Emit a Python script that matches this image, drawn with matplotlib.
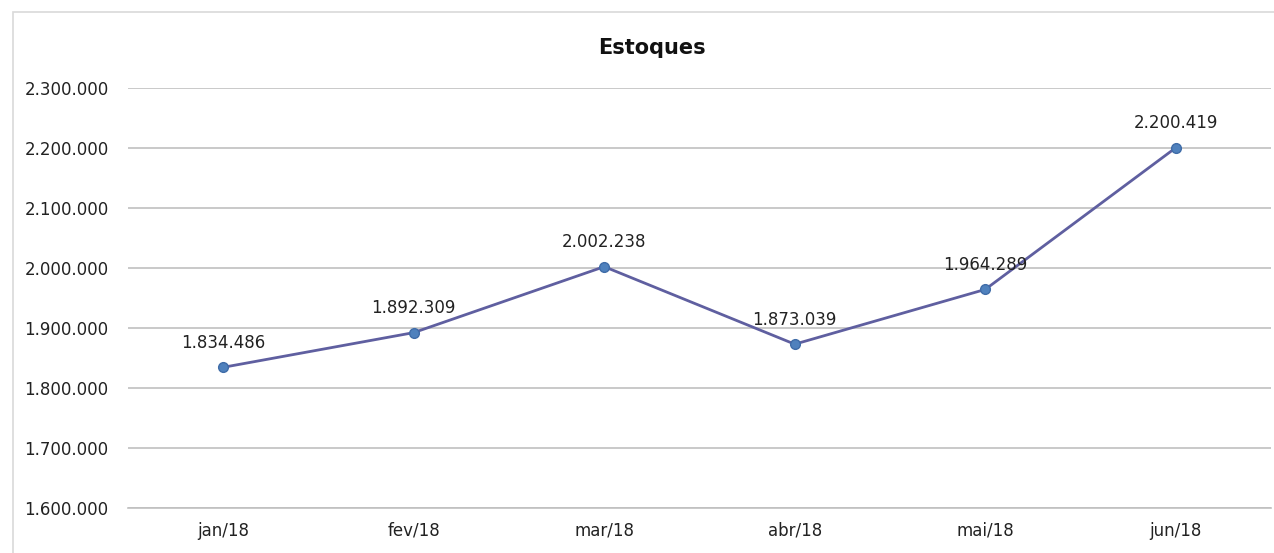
import matplotlib
matplotlib.use("Agg")
import matplotlib.pyplot as plt
from matplotlib.patches import Rectangle

categories = ["jan/18", "fev/18", "mar/18", "abr/18", "mai/18", "jun/18"]
values = [1834486, 1892309, 2002238, 1873039, 1964289, 2200419]
yticks = [1600000, 1700000, 1800000, 1900000, 2000000, 2100000, 2200000, 2300000]
title = "Estoques"

def fmt(v):
    return f"{v:,.0f}".replace(",", ".")

W, H = 1274, 553
fig = plt.figure(figsize=(W / 100, H / 100), dpi=100)
fig.patch.set_facecolor("white")
fig.patches.append(Rectangle((13 / W, -0.05), 1.2, (H - 12) / H + 0.05,
                             transform=fig.transFigure, fill=False,
                             edgecolor="#D9D9D9", linewidth=1.2))

ax = fig.add_axes([128 / W, 1 - 508 / H, (1271 - 128) / W, (508 - 88) / H])
x = list(range(len(categories)))
ax.plot(x, values, color="#5F5FA0", linewidth=2.0, marker="o", markersize=7,
        markerfacecolor="#4F81BD", markeredgecolor="#3F6CA8", markeredgewidth=1,
        zorder=3)
for xi, v in zip(x, values):
    ax.annotate(fmt(v), (xi, v), xytext=(0, 11), textcoords="offset points",
                ha="center", va="bottom", fontsize=12, color="#222222", zorder=4)

ax.set_xlim(-0.5, len(categories) - 0.5)
ax.set_ylim(yticks[0], yticks[-1])
ax.set_yticks(yticks)
ax.set_yticklabels([fmt(t) for t in yticks], fontsize=12, color="#222222")
ax.set_xticks(x)
ax.set_xticklabels(categories, fontsize=12, color="#222222")
ax.tick_params(length=0, pad=14)
ax.tick_params(axis="x", pad=10)
ax.grid(axis="y", color="#C0C0C0", linewidth=1.2)
ax.set_axisbelow(True)
for s in ax.spines.values():
    s.set_visible(False)
ax.spines["bottom"].set_visible(True)
ax.spines["bottom"].set_color("#C0C0C0")
ax.spines["bottom"].set_linewidth(1.2)

fig.text(652 / W, 1 - 48 / H, title, ha="center", va="center",
         fontsize=15, fontweight="bold", color="#111111")

fig.savefig("out.png", dpi=100)
